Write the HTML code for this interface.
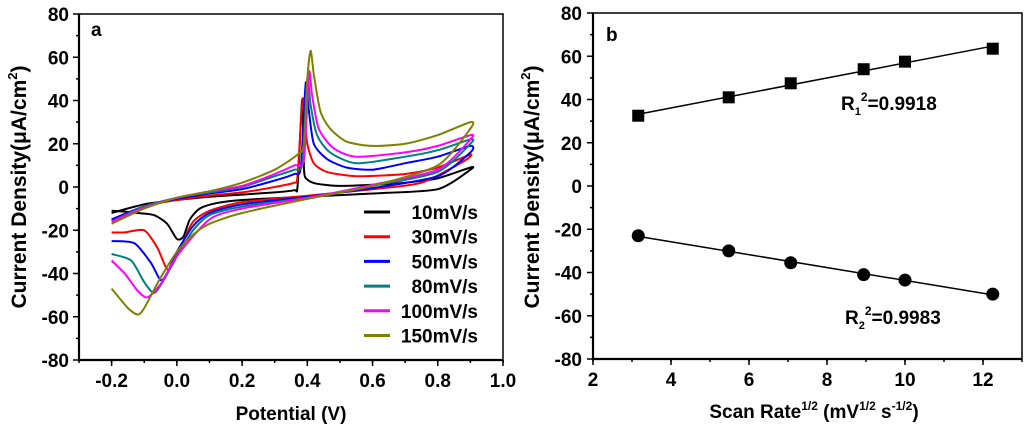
<!DOCTYPE html>
<html><head><meta charset="utf-8"><style>
html,body{margin:0;padding:0;background:#fff;}
svg{display:block;font-family:"Liberation Sans",Arial,sans-serif;font-weight:bold;}
</style></head><body>
<svg id="chart" width="1024" height="430" viewBox="0 0 1024 430" xmlns="http://www.w3.org/2000/svg">
<g id="pa"></g>
<g id="pb"></g>
</svg>
<script>
// ---- Panel a data (CV curves): potential (V) and current density (uA/cm2) ----
const cvRates = ["10mV/s","30mV/s","50mV/s","80mV/s","100mV/s","150mV/s"];
const cvColors = ["#000000","#ff0000","#0000ff","#008080","#ff00ff","#808000"];
const cv10V = [-0.2,-0.1,0,0.1,0.2,0.3,0.36,0.37,0.38,0.385,0.39,0.4,0.43,0.5,0.6,0.7,0.8,0.9, 0.9,0.8,0.6,0.4,0.2,0.12,0.07,0.04,0.02,0.0,-0.03,-0.07,-0.12,-0.2];
const cv10I = [-12,-8,-6,-4.5,-3.5,-2.5,-1.5,0,30,40,8,3.5,1.5,0.5,1,2,4,9, 8,-1,-3,-4.5,-6,-7.5,-10,-15,-23,-24,-17,-13,-12,-11];
const cv30V = [-0.2,-0.1,0,0.1,0.2,0.3,0.36,0.37,0.385,0.39,0.40,0.42,0.46,0.55,0.7,0.8,0.9, 0.88,0.75,0.6,0.4,0.2,0.1,0.05,0.02,-0.01,-0.03,-0.06,-0.1,-0.16,-0.2];
const cv30I = [-15,-9,-6,-4,-2.5,0,2,5,40,35,20,11,7,5,6,9,15, 12,2,-1,-4,-7,-11,-16,-25,-35,-38,-28,-20,-21,-21];
const cv50V = [-0.2,-0.1,0,0.1,0.2,0.3,0.36,0.38,0.395,0.405,0.42,0.46,0.52,0.6,0.7,0.8,0.9, 0.9,0.8,0.6,0.4,0.2,0.1,0.05,0.0,-0.03,-0.05,-0.08,-0.13,-0.2];
const cv50I = [-15,-9,-5.5,-3,-1,3,6,9,48,35,20,13,9,8,11,14,19, 16,5,-0.5,-4.5,-8,-12,-18,-30,-40,-43,-35,-26,-25];
const cv80V = [-0.2,-0.1,0,0.1,0.2,0.3,0.36,0.385,0.4,0.41,0.43,0.47,0.55,0.7,0.8,0.9, 0.9,0.8,0.6,0.4,0.2,0.1,0.05,0,-0.04,-0.07,-0.1,-0.14,-0.2];
const cv80I = [-16,-9,-5,-2.5,0,5,8,11,50,38,24,16,11,14,17,22, 20,7,0.5,-5,-9,-13,-20,-32,-43,-49,-44,-34,-31];
const cv100V = [-0.2,-0.1,0,0.1,0.2,0.3,0.36,0.39,0.405,0.415,0.435,0.48,0.55,0.7,0.8,0.9, 0.9,0.8,0.6,0.4,0.2,0.1,0,-0.05,-0.09,-0.12,-0.16,-0.2];
const cv100I = [-16,-9.5,-5,-2,0.5,6,10,13,53,42,27,18,14,16,19,24, 22,8,1,-5,-10,-15,-32,-45,-51,-48,-40,-34];
const cv150V = [-0.2,-0.1,0,0.1,0.2,0.3,0.37,0.39,0.4,0.41,0.42,0.44,0.47,0.52,0.6,0.7,0.8,0.9, 0.9,0.8,0.6,0.4,0.2,0.1,0.05,0,-0.05,-0.1,-0.12,-0.15,-0.2];
const cv150I = [-17,-10,-5,-2,2,8,15,20,50,63,52,35,27,21,19,20,24,30, 27,10,0.5,-5.5,-12,-17,-22,-30,-42,-56,-59,-56,-47];
const cvXTicks = [-0.2,0.0,0.2,0.4,0.6,0.8,1.0];
const cvXTickLabels = ["-0.2","0.0","0.2","0.4","0.6","0.8","1.0"];
const yTicks = [-80,-60,-40,-20,0,20,40,60,80];
const yTickLabels = ["-80","-60","-40","-20","0","20","40","60","80"];
// ---- Panel b data ----
const srX = [3.16,5.48,7.07,8.94,10,12.25];
const srAnodic = [32.5,41,47.5,54,57.5,63.5];
const srCathodic = [-23,-30,-35.5,-41,-43.5,-50];
const srXTicks = [2,4,6,8,10,12];
const srXTickLabels = ["2","4","6","8","10","12"];

const NS="http://www.w3.org/2000/svg";
const FS=19;
function mk(parent,tag,attrs,text){const e=document.createElementNS(NS,tag);for(const k in attrs)e.setAttribute(k,attrs[k]);if(text!==undefined)e.textContent=text;parent.appendChild(e);return e;}

function smoothPath(pts){
  let d='M'+pts[0][0].toFixed(1)+','+pts[0][1].toFixed(1);
  const t=0.12;
  for(let i=0;i<pts.length-1;i++){
    const p0=pts[Math.max(0,i-1)],p1=pts[i],p2=pts[i+1],p3=pts[Math.min(pts.length-1,i+2)];
    const c1=[p1[0]+(p2[0]-p0[0])*t,p1[1]+(p2[1]-p0[1])*t];
    const c2=[p2[0]-(p3[0]-p1[0])*t,p2[1]-(p3[1]-p1[1])*t];
    d+=' C'+c1[0].toFixed(1)+','+c1[1].toFixed(1)+' '+c2[0].toFixed(1)+','+c2[1].toFixed(1)+' '+p2[0].toFixed(1)+','+p2[1].toFixed(1);
  }
  return d;
}

function axes(g,L,R,T,B,xmin,xmax,xt,xtl,xminorStep,sx,sy,yLabelX){
  const f=mk(g,'rect',{x:L,y:T,width:R-L,height:B-T,fill:'none',stroke:'#000','stroke-width':1.5});
  
  
  mk(g,'line',{x1:L,y1:T,x2:L,y2:B+1,stroke:'#000','stroke-width':2.2});
  mk(g,'line',{x1:L-1,y1:B,x2:R,y2:B,stroke:'#000','stroke-width':2.2});
  const yt=mk(g,'g',{});  
  for(let v=-80;v<=80;v+=10){const y=sy(v);const maj=(v%20===0);mk(yt,'line',{x1:L-(maj?6:3),y1:y,x2:L,y2:y,stroke:'#000','stroke-width':1.5});}
  yTicks.forEach((v,i)=>{const t=mk(yt,'text',{x:yLabelX,y:sy(v)+7,'text-anchor':'end','font-size':FS},yTickLabels[i]);
    
    });
  const xg=mk(g,'g',{});  
  for(let v=xmin;v<=xmax+1e-9;v+=xminorStep){const x=sx(v);mk(xg,'line',{x1:x,y1:B,x2:x,y2:B+3,stroke:'#000','stroke-width':1.5});}
  xt.forEach((v,i)=>{const x=sx(v);mk(xg,'line',{x1:x,y1:B,x2:x,y2:B+6,stroke:'#000','stroke-width':1.5});
    const t=mk(xg,'text',{x:x,y:B+27,'text-anchor':'middle','font-size':FS},xtl[i]);
    
    });
}

// ---- Panel a ----
(function(){
  const g=document.getElementById('pa');
  const L=79,R=503,T=14,B=360;
  const sx=v=>L+(v+0.3)/1.3*(R-L);
  const sy=v=>B-(v+80)/160*(B-T);
  axes(g,L,R,T,B,-0.3,1.0,cvXTicks,cvXTickLabels,0.1,sx,sy,69);
  const Vs=[cv10V,cv30V,cv50V,cv80V,cv100V,cv150V];
  const Is=[cv10I,cv30I,cv50I,cv80I,cv100I,cv150I];
  Vs.forEach((V,k)=>{
    const pts=V.map((v,i)=>[sx(v),sy(Is[k][i])]);
    const p=mk(g,'path',{d:smoothPath(pts),fill:'none',stroke:cvColors[k],'stroke-width':2,'stroke-linejoin':'round'});
    
    
  });
  const lg=mk(g,'g',{});  
  cvRates.forEach((r,k)=>{
    const y=212+k*24.7;
    const e=mk(lg,'g',{});
    
    
    mk(e,'line',{x1:364,y1:y,x2:390,y2:y,stroke:cvColors[k],'stroke-width':3});
    mk(e,'text',{x:478,y:y+7,'text-anchor':'end','font-size':FS},r);
  });
  const a=mk(g,'text',{x:91,y:36,'font-size':FS},'a');  
  const xt=mk(g,'text',{x:291,y:420,'text-anchor':'middle','font-size':FS},'Potential (V)');  
  const yt=mk(g,'text',{transform:'translate(26,187) rotate(-90)','text-anchor':'middle','font-size':21});  
  yt.innerHTML='Current Density(μA/cm<tspan dy="-9" font-size="13">2</tspan><tspan dy="9">)</tspan>';
})();

// ---- Panel b ----
(function(){
  const g=document.getElementById('pb');
  const L=593,R=1022,T=13,B=359;
  const sx=v=>L+(v-2)/11*(R-L);
  const sy=v=>B-(v+80)/160*(B-T);
  axes(g,L,R,T,B,2,13,srXTicks,srXTickLabels,1,sx,sy,582);
  function fit(xs,ys){const n=xs.length;const mx=xs.reduce((a,b)=>a+b)/n,my=ys.reduce((a,b)=>a+b)/n;let sxy=0,sxx=0;xs.forEach((x,i)=>{sxy+=(x-mx)*(ys[i]-my);sxx+=(x-mx)*(x-mx);});const m=sxy/sxx;return [m,my-m*mx];}
  [[srAnodic,'anodic'],[srCathodic,'cathodic']].forEach(([ys,nm])=>{
    const [m,b]=fit(srX,ys);const x0=srX[0],x1=srX[srX.length-1];
    const l=mk(g,'line',{x1:sx(x0),y1:sy(m*x0+b),x2:sx(x1),y2:sy(m*x1+b),stroke:'#000','stroke-width':1.5});
    
    
    srX.forEach((x,i)=>{
      let e;
      if(nm==='anodic') e=mk(g,'rect',{x:sx(x)-6,y:sy(ys[i])-6,width:12,height:12,fill:'#000'});
      else e=mk(g,'circle',{cx:sx(x),cy:sy(ys[i]),r:6.5,fill:'#000'});
      
      
    });
  });
  const r1=mk(g,'text',{x:841,y:110,'font-size':FS});  
  r1.innerHTML='R<tspan dy="5" font-size="11">1</tspan><tspan dy="-14" font-size="12">2</tspan><tspan dy="9">=0.9918</tspan>';
  const r2=mk(g,'text',{x:845,y:324,'font-size':FS});  
  r2.innerHTML='R<tspan dy="5" font-size="11">2</tspan><tspan dy="-14" font-size="12">2</tspan><tspan dy="9">=0.9983</tspan>';
  const b=mk(g,'text',{x:606,y:41,'font-size':FS},'b');  
  const xt=mk(g,'text',{x:814,y:418,'text-anchor':'middle','font-size':FS});  
  xt.innerHTML='Scan Rate<tspan dy="-8" font-size="12">1/2</tspan><tspan dy="8"> (mV</tspan><tspan dy="-8" font-size="12">1/2</tspan><tspan dy="8"> s</tspan><tspan dy="-8" font-size="12">-1/2</tspan><tspan dy="8">)</tspan>';
  const yt=mk(g,'text',{transform:'translate(539,187) rotate(-90)','text-anchor':'middle','font-size':21});  
  yt.innerHTML='Current Density(μA/cm<tspan dy="-9" font-size="13">2</tspan><tspan dy="9">)</tspan>';
})();
</script>
</body></html>
